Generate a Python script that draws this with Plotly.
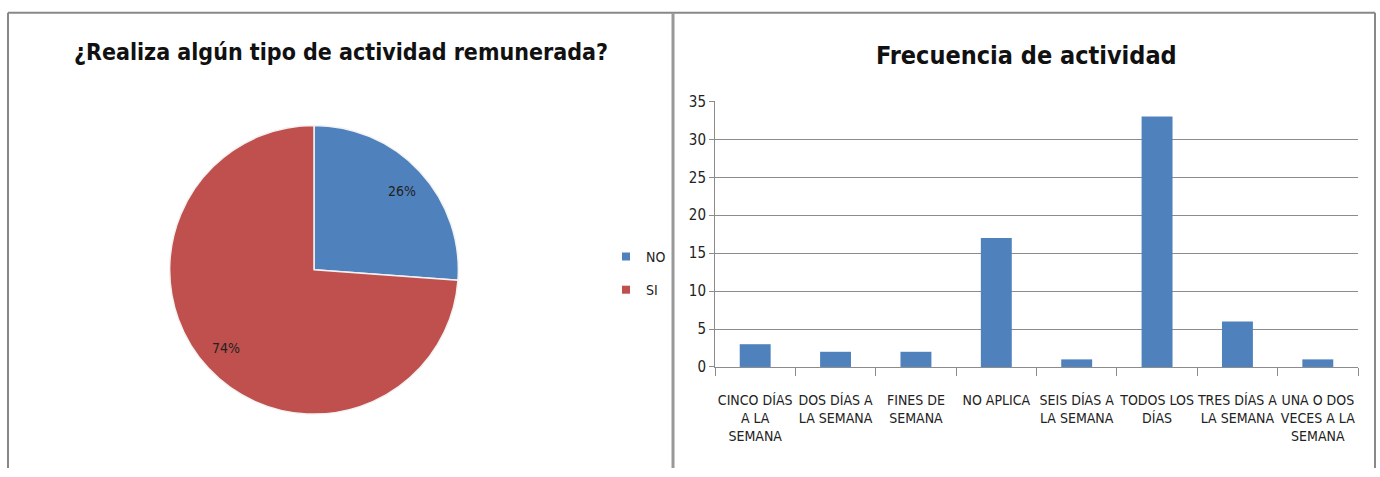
import math
import plotly.graph_objects as go

W, H = 1380, 477

# ---- data ----
pie_labels = ["NO", "SI"]
pie_values = [17, 48]
pie_colors = ["#4F81BD", "#C0504D"]

bar_categories = ["CINCO DÍAS A LA SEMANA", "DOS DÍAS A LA SEMANA", "FINES DE SEMANA",
                  "NO APLICA", "SEIS DÍAS A LA SEMANA", "TODOS LOS DÍAS",
                  "TRES DÍAS A LA SEMANA", "UNA O DOS VECES A LA SEMANA"]
bar_ticktext = ["CINCO DÍAS<br>A LA<br>SEMANA", "DOS DÍAS A<br>LA SEMANA", "FINES DE<br>SEMANA",
                "NO APLICA", "SEIS DÍAS A<br>LA SEMANA", "TODOS LOS<br>DÍAS",
                "TRES DÍAS A<br>LA SEMANA", "UNA O DOS<br>VECES A LA<br>SEMANA"]
bar_values = [3, 2, 2, 17, 1, 33, 6, 1]
y_ticks = [0, 5, 10, 15, 20, 25, 30, 35]

FONT = "DejaVu Sans Condensed, Liberation Sans Narrow, Liberation Sans, sans-serif"

def px(x):
    return x / W

def py(y):
    return 1 - y / H

fig = go.Figure()

# pie
cx, cy, r = 314, 271, 150
fig.add_trace(go.Pie(
    labels=pie_labels, values=pie_values, sort=False, direction="clockwise", rotation=0,
    marker=dict(colors=pie_colors, line=dict(color="#f2f2f2", width=1.5)),
    textinfo="none",
    domain=dict(x=[px(cx - r), px(cx + r)], y=[py(cy + r), py(cy - r)]),
    showlegend=False, hoverinfo="label+value+percent",
))

# percentage labels placed at the middle angle of each slice (clockwise from 12 o'clock)
total = sum(pie_values)
annotations = []
cum = 0.0
for v in pie_values:
    frac = v / total
    mid = (cum + frac / 2) * 2 * math.pi
    cum += frac
    lx = cx + 0.8 * r * math.sin(mid)
    ly = cy - 0.8 * r * math.cos(mid)
    annotations.append(dict(
        text=f"{round(frac * 100)}%", x=px(lx), y=py(ly), xref="paper", yref="paper",
        xanchor="center", yanchor="middle", showarrow=False,
        font=dict(family=FONT, size=14, color="#222"),
    ))

# legend entries for pie slices (separate groups so the gap matches)
for lab, col in zip(pie_labels, pie_colors):
    fig.add_trace(go.Scatter(
        x=[None], y=[None], mode="markers", name=lab, legendgroup=lab,
        marker=dict(symbol="square", size=8, color=col),
        xaxis="x", yaxis="y", showlegend=True,
    ))

# bars
fig.add_trace(go.Bar(
    x=bar_categories, y=bar_values, marker=dict(color="#4F81BD", line=dict(width=0)),
    showlegend=False, xaxis="x", yaxis="y",
))

annotations += [
    dict(text="<b>¿Realiza algún tipo de actividad remunerada?</b>", x=px(341), y=py(45),
         xref="paper", yref="paper", xanchor="center", yanchor="middle", showarrow=False,
         font=dict(family=FONT, size=23, color="#111")),
    dict(text="<b>Frecuencia de actividad</b>", x=px(1026), y=py(48),
         xref="paper", yref="paper", xanchor="center", yanchor="middle", showarrow=False,
         font=dict(family=FONT, size=25, color="#111")),
]

fig.update_layout(
    width=W, height=H,
    margin=dict(l=0, r=0, t=0, b=0),
    paper_bgcolor="white", plot_bgcolor="white",
    font=dict(family=FONT, color="#222"),
    bargap=0.615,
    xaxis=dict(
        domain=[px(715), px(1358)], type="category",
        categoryorder="array", categoryarray=bar_categories,
        tickmode="array", tickvals=bar_categories, ticktext=bar_ticktext,
        tickson="boundaries", ticks="outside", ticklen=8, tickcolor="#8c8c8c",
        ticklabelstandoff=20,
        showline=True, linecolor="#8c8c8c", linewidth=1,
        tickfont=dict(family=FONT, size=14, color="#222"), tickangle=0,
        showgrid=False, fixedrange=True,
    ),
    yaxis=dict(
        domain=[py(372), py(96)], range=[0, 35], tickvals=y_ticks,
        showgrid=True, gridcolor="#8c8c8c", gridwidth=1,
        showline=True, linecolor="#8c8c8c", linewidth=1,
        ticks="outside", ticklen=5, tickcolor="#8c8c8c",
        tickfont=dict(family=FONT, size=15, color="#222"),
        zeroline=False, fixedrange=True,
    ),
    legend=dict(
        x=px(606), y=py(241), xanchor="left", yanchor="top",
        font=dict(family=FONT, size=14, color="#222"),
        itemwidth=30, tracegroupgap=12, traceorder="grouped",
        bgcolor="rgba(0,0,0,0)",
    ),
    annotations=annotations,
    shapes=[
        dict(type="line", xref="paper", yref="paper", x0=px(8), x1=px(8), y0=py(4), y1=0,
             line=dict(color="#888", width=2)),
        dict(type="line", xref="paper", yref="paper", x0=px(8), x1=px(1375), y0=py(4), y1=py(4),
             line=dict(color="#888", width=2)),
        dict(type="line", xref="paper", yref="paper", x0=px(673), x1=px(673), y0=py(4), y1=0,
             line=dict(color="#999", width=3)),
        dict(type="line", xref="paper", yref="paper", x0=px(1375), x1=px(1375), y0=py(4), y1=0,
             line=dict(color="#888", width=2)),
    ],
)

fig.write_html(
    "out.html",
    config={"displayModeBar": False},
    post_script="document.body.style.margin='0';",
)
